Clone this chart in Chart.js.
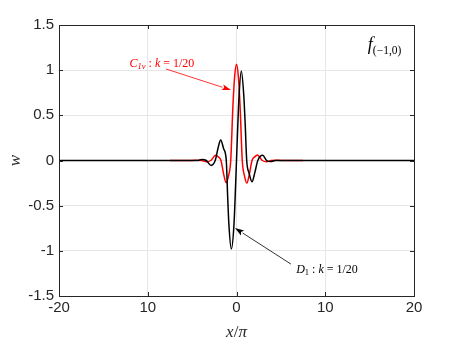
<!DOCTYPE html>
<html>
<head>
<meta charset="utf-8">
<script src="https://cdn.jsdelivr.net/npm/chart.js@4.4.1/dist/chart.umd.min.js"></script>
<style>
  html, body { margin: 0; padding: 0; background: #fff; }
  #wrap { width: 457px; height: 343px; }
</style>
</head>
<body>
<div id="wrap"><canvas id="waveChart"></canvas></div>
<script>
// values (x in units of pi)
const xBlack = [-20, -5, -4.4, -3.9, -3.4, -2.87, -2.4, -2.05, -1.78, -1.45, -1.15, -1.0, -0.85, -0.58, -0.28, -0.1, 0,
                0.1, 0.28, 0.54, 0.82, 0.98, 1.15, 1.42, 1.75, 2.05, 2.4, 2.95, 3.4, 3.85, 4.4, 5, 20];
const wBlack = [0, 0, 0, 0.012, 0, -0.054, 0, 0.15, 0.227, 0.13, 0, -0.39, -0.72, -0.98, -0.7, -0.27, 0,
                0.27, 0.7, 0.99, 0.72, 0.4, 0, -0.14, -0.235, -0.14, 0, 0.057, 0, -0.012, 0, 0, 0];

const xRed = [-7.5, -5, -4.4, -3.9, -3.4, -2.9, -2.35, -2.05, -1.75, -1.45, -1.17, -0.9, -0.65, -0.4, -0.2, 0,
              0.2, 0.4, 0.65, 0.9, 1.17, 1.45, 1.75, 2.05, 2.35, 2.9, 3.4, 3.9, 4.4, 5, 7.5];
const wRed = [0, 0, 0.003, 0, -0.015, 0, 0.057, 0.04, 0, -0.15, -0.245, -0.17, 0, 0.61, 0.94, 1.065,
              0.94, 0.61, 0, -0.17, -0.25, -0.15, 0, 0.04, 0.06, 0, -0.015, 0, 0.003, 0, 0];

const xTicks = [-20, -10, 0, 10, 20];
const xTickLabels = ['-20', '10', '0', '10', '20'];
const yTicks = [-1.5, -1, -0.5, 0, 0.5, 1, 1.5];
const yTickLabels = ['-1.5', '-1', '-0.5', '0', '0.5', '1', '1.5'];

const serif = '"Liberation Serif", "DejaVu Serif", serif';
const sans = '"Liberation Sans", Arial, sans-serif';

function toPoints(xs, ys) {
  return xs.map((x, i) => ({ x: x, y: ys[i] }));
}

// draw a list of text runs [text, font, dy] starting at x
function drawRuns(ctx, runs, x, y, color, align) {
  let total = 0;
  runs.forEach(r => { ctx.font = r[1]; total += ctx.measureText(r[0]).width; });
  let cx = align === 'center' ? x - total / 2 : x;
  ctx.fillStyle = color;
  ctx.textBaseline = 'alphabetic';
  ctx.textAlign = 'left';
  runs.forEach(r => {
    ctx.font = r[1];
    ctx.fillText(r[0], cx, y + (r[2] || 0));
    cx += ctx.measureText(r[0]).width;
  });
}

function arrow(ctx, x1, y1, x2, y2, color) {
  const a = Math.atan2(y2 - y1, x2 - x1);
  const len = 9, hw = 3;
  ctx.strokeStyle = color;
  ctx.fillStyle = color;
  ctx.lineWidth = 0.8;
  ctx.beginPath();
  ctx.moveTo(x1, y1);
  ctx.lineTo(x2 - len * Math.cos(a), y2 - len * Math.sin(a));
  ctx.stroke();
  ctx.beginPath();
  ctx.moveTo(x2, y2);
  ctx.lineTo(x2 - len * Math.cos(a) + hw * Math.sin(a), y2 - len * Math.sin(a) - hw * Math.cos(a));
  ctx.lineTo(x2 - len * Math.cos(a) * 0.8, y2 - len * Math.sin(a) * 0.8);
  ctx.lineTo(x2 - len * Math.cos(a) - hw * Math.sin(a), y2 - len * Math.sin(a) + hw * Math.cos(a));
  ctx.closePath();
  ctx.fill();
}

const boxPlugin = {
  id: 'boxAndNotes',
  afterDraw(chart) {
    const ctx = chart.ctx;
    const a = chart.chartArea;
    const xs = chart.scales.x, ys = chart.scales.y;
    ctx.save();
    // inward ticks
    ctx.strokeStyle = '#262626';
    ctx.lineWidth = 1;
    ctx.beginPath();
    xTicks.forEach(v => {
      const px = Math.round(xs.getPixelForValue(v)) + 0.5;
      ctx.moveTo(px, a.bottom); ctx.lineTo(px, a.bottom - 4);
      ctx.moveTo(px, a.top); ctx.lineTo(px, a.top + 4);
    });
    yTicks.forEach(v => {
      const py = Math.round(ys.getPixelForValue(v)) + 0.5;
      ctx.moveTo(a.left, py); ctx.lineTo(a.left + 4, py);
      ctx.moveTo(a.right, py); ctx.lineTo(a.right - 4, py);
    });
    ctx.stroke();
    // box
    ctx.strokeRect(Math.round(a.left) + 0.5, Math.round(a.top) + 0.5,
                   Math.round(a.right - a.left), Math.round(a.bottom - a.top));

    // annotations
    const P = (x, y) => [xs.getPixelForValue(x), ys.getPixelForValue(y)];
    let s = P(-7.94, 1.013), t = P(-0.62, 0.78);
    arrow(ctx, s[0], s[1], t[0], t[1], '#ff0000');
    s = P(6.14, -1.147); t = P(-0.17, -0.748);
    arrow(ctx, s[0], s[1], t[0], t[1], '#000000');

    let p = P(-8.4, 1.076);
    drawRuns(ctx, [
      ['C', 'italic 12px ' + serif],
      ['1v', 'italic 8.5px ' + serif, 2],
      [' : ', '12px ' + serif],
      ['k', 'italic 12px ' + serif],
      [' = 1/20', '12px ' + serif]
    ], p[0], p[1] + 4, '#ff0000', 'center');

    p = P(10.2, -1.2);
    drawRuns(ctx, [
      ['D', 'italic 12px ' + serif],
      ['1', '8.5px ' + serif, 2],
      [' : ', '12px ' + serif],
      ['k', 'italic 12px ' + serif],
      [' = 1/20', '12px ' + serif]
    ], p[0], p[1] + 4, '#000000', 'center');

    p = P(14.8, 1.28);
    drawRuns(ctx, [
      ['f', 'italic 18px ' + serif],
      ['(\u22121,0)', '11.5px ' + serif, 4]
    ], p[0], p[1] + 5, '#000000', 'left');

    // axis titles
    drawRuns(ctx, [
      ['x', 'italic 17px ' + serif],
      ['/', '17px ' + serif],
      ['\u03c0', 'italic 17px ' + serif]
    ], (a.left + a.right) / 2, 337, '#262626', 'center');

    ctx.translate(20, (a.top + a.bottom) / 2);
    ctx.rotate(-Math.PI / 2);
    drawRuns(ctx, [['w', 'italic 17px ' + serif]], 0, 0, '#262626', 'center');
    ctx.restore();
  }
};

new Chart(document.getElementById('waveChart'), {
  type: 'line',
  data: {
    datasets: [
      {
        label: 'D1',
        data: toPoints(xBlack, wBlack),
        borderColor: '#000000',
        borderWidth: 1.5,
        pointRadius: 0,
        cubicInterpolationMode: 'monotone'
      },
      {
        label: 'C1v',
        data: toPoints(xRed, wRed),
        borderColor: '#ff0000',
        borderWidth: 1.5,
        pointRadius: 0,
        cubicInterpolationMode: 'monotone'
      }
    ]
  },
  options: {
    responsive: true,
    maintainAspectRatio: false,
    animation: false,
    layout: { padding: { left: 0, right: 43, top: 25, bottom: 0 } },
    plugins: {
      legend: { display: false },
      tooltip: { enabled: false }
    },
    scales: {
      x: {
        type: 'linear',
        min: -20,
        max: 20,
        afterBuildTicks: (axis) => { axis.ticks = xTicks.map(v => ({ value: v })); },
        afterFit: (axis) => { axis.height = 47; },
        ticks: {
          color: '#262626',
          font: { family: sans, size: 15 },
          padding: 3,
          maxRotation: 0,
          callback: (v) => xTickLabels[xTicks.indexOf(v)]
        },
        grid: { color: '#e6e6e6', drawTicks: false },
        border: { display: false }
      },
      y: {
        min: -1.5,
        max: 1.5,
        afterBuildTicks: (axis) => { axis.ticks = yTicks.map(v => ({ value: v })); },
        afterFit: (axis) => { axis.width = 59; },
        ticks: {
          color: '#262626',
          font: { family: sans, size: 15 },
          padding: 5,
          callback: (v) => yTickLabels[yTicks.indexOf(v)]
        },
        grid: { color: '#e6e6e6', drawTicks: false },
        border: { display: false }
      }
    }
  },
  plugins: [boxPlugin]
});
</script>
</body>
</html>
